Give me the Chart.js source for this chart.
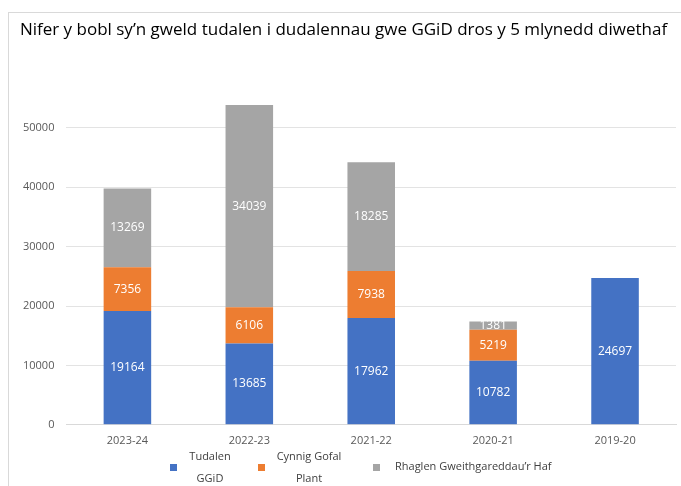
<!DOCTYPE html>
<html>
<head>
<meta charset="utf-8">
<script src="https://cdn.jsdelivr.net/npm/chart.js@4"></script>
<style>
  html, body { margin: 0; padding: 0; background: #fff; }
  #wrap { position: relative; width: 681px; height: 486px; }
  #frame { position: absolute; left: 8px; top: 12px; width: 700px; height: 500px; border: 1px solid #d9d9d9; }
  canvas { position: absolute; left: 0; top: 0; }
</style>
</head>
<body>
<div id="wrap">
  <div id="frame"></div>
  <canvas id="chart" width="681" height="486"></canvas>
</div>
<script>
const years = ['2023-24', '2022-23', '2021-22', '2020-21', '2019-20'];
const tudalen = [19164, 13685, 17962, 10782, 24697];
const gofalPlant = [7356, 6106, 7938, 5219, 0];
const rhaglenHaf = [13269, 34039, 18285, 1381, 0];
const legendNames = [['Tudalen', 'GGiD'], ['Cynnig Gofal', 'Plant'], ['Rhaglen Gweithgareddau\u2019r Haf']];
const colours = ['#4472C4', '#ED7D31', '#A5A5A5'];

const font = '"Open Sans", sans-serif';

// white numbers in the middle of each segment
const barLabels = {
  id: 'barLabels',
  afterDatasetsDraw(chart) {
    const ctx = chart.ctx;
    ctx.save();
    ctx.font = '12px ' + font;
    ctx.fillStyle = '#ffffff';
    ctx.textAlign = 'center';
    ctx.textBaseline = 'middle';
    chart.data.datasets.forEach((ds, i) => {
      chart.getDatasetMeta(i).data.forEach((bar, j) => {
        const v = ds.data[j];
        if (!v) return;
        ctx.fillText(String(v), bar.x, (bar.y + bar.base) / 2);
      });
    });
    ctx.restore();
  }
};

// legend with wrapped labels like the original
const wrapLegend = {
  id: 'wrapLegend',
  afterDraw(chart) {
    const ctx = chart.ctx;
    ctx.save();
    ctx.font = '11px ' + font;
    const pos = [[173, 210], [261, 309], [376, 395]];
    legendNames.forEach((lines, i) => {
      ctx.fillStyle = colours[i];
      ctx.fillRect(pos[i][0] - 3, 464, 7, 7);
      ctx.fillStyle = '#404040';
      ctx.textBaseline = 'middle';
      if (lines.length === 1) {
        ctx.textAlign = 'left';
        ctx.fillText(lines[0], pos[i][1], 467);
      } else {
        ctx.textAlign = 'center';
        ctx.fillText(lines[0], pos[i][1], 457);
        ctx.fillText(lines[1], pos[i][1], 479);
      }
    });
    ctx.restore();
  }
};

new Chart(document.getElementById('chart'), {
  type: 'bar',
  data: {
    labels: years,
    datasets: [
      { label: legendNames[0].join(' '), data: tudalen, backgroundColor: colours[0] },
      { label: legendNames[1].join(' '), data: gofalPlant, backgroundColor: colours[1] },
      { label: legendNames[2].join(' '), data: rhaglenHaf, backgroundColor: colours[2] }
    ]
  },
  options: {
    responsive: false,
    animation: false,
    layout: { padding: { left: 11, right: 5, top: 0, bottom: 38 } },
    datasets: { bar: { categoryPercentage: 1, barPercentage: 0.39 } },
    plugins: {
      legend: { display: false },
      tooltip: { enabled: false },
      title: {
        display: true,
        text: 'Nifer y bobl sy\u2019n gweld tudalen i dudalennau gwe GGiD dros y 5 mlynedd diwethaf',
        color: '#000',
        font: { family: font, size: 17, weight: 'normal' },
        padding: { top: 20, bottom: 28 }
      }
    },
    scales: {
      x: {
        stacked: true,
        grid: { display: false },
        border: { color: '#d9d9d9' },
        ticks: { color: '#595959', font: { family: font, size: 11 }, padding: 1 }
      },
      y: {
        stacked: true,
        min: 0,
        max: 60000,
        grid: {
          color: ctx => (ctx.tick && ctx.tick.value === 60000 ? 'rgba(0,0,0,0)' : '#e3e3e3'),
          drawTicks: false
        },
        border: { display: false },
        ticks: {
          stepSize: 10000,
          color: '#595959',
          padding: 12,
          font: { family: font, size: 11 },
          callback: v => (v === 60000 ? '' : v)
        }
      }
    }
  },
  plugins: [barLabels, wrapLegend]
});
</script>
</body>
</html>
